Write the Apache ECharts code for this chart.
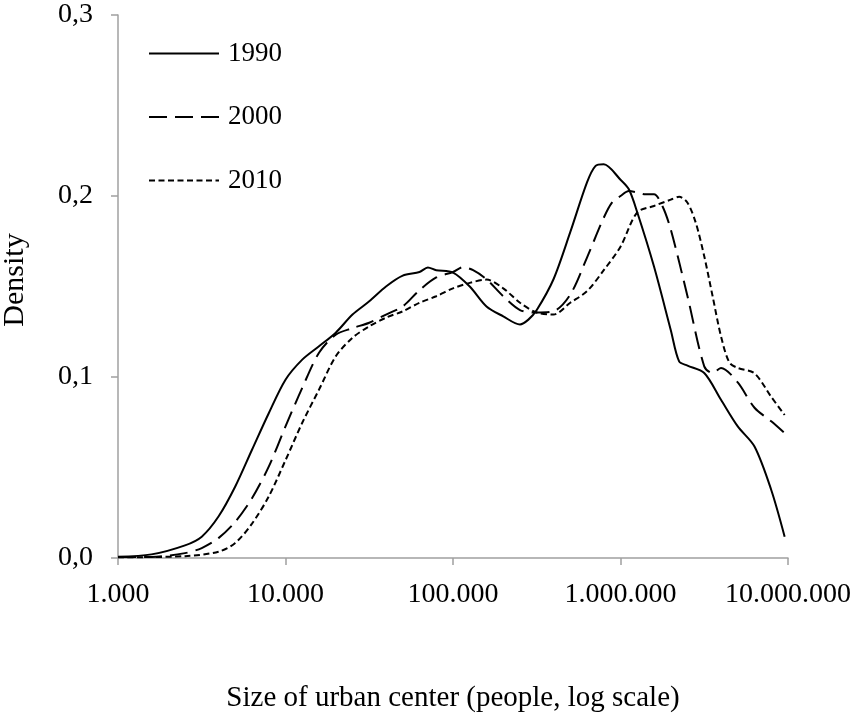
<!DOCTYPE html>
<html>
<head>
<meta charset="utf-8">
<script src="https://cdn.jsdelivr.net/npm/echarts@6/dist/echarts.min.js"></script>
<style>
html,body{margin:0;padding:0;background:#fff;}
#chart{width:854px;height:719px;}
</style>
</head>
<body>
<div id="chart"></div>
<script>
// x values are log10(size of urban center)
var x1990 = [3.0,3.2,3.4,3.5,3.6,3.7,3.8,3.9,4.0,4.1,4.2,4.3,4.4,4.5,4.6,4.7,4.8,4.85,4.9,5.0,5.1,5.2,5.3,5.4,5.45,5.5,5.6,5.7,5.8,5.85,5.9,6.0,6.05,6.1,6.2,6.3,6.35,6.4,6.5,6.6,6.7,6.8,6.9,6.98];
var d1990 = [0.0007,0.002,0.007,0.0118,0.0229,0.0395,0.0598,0.080,0.0985,0.1096,0.117,0.1245,0.1345,0.1418,0.150,0.156,0.158,0.1605,0.159,0.1577,0.150,0.139,0.1335,0.129,0.1317,0.137,0.154,0.180,0.2075,0.2165,0.2175,0.209,0.2037,0.191,0.161,0.126,0.1086,0.1063,0.1022,0.0874,0.0727,0.0616,0.0376,0.0118];

var x2000 = [3.0,3.2,3.4,3.5,3.6,3.7,3.8,3.9,4.0,4.1,4.2,4.3,4.4,4.5,4.6,4.7,4.8,4.9,5.0,5.06,5.12,5.2,5.3,5.4,5.5,5.6,5.7,5.8,5.9,5.95,6.0,6.05,6.1,6.15,6.2,6.25,6.3,6.4,6.5,6.55,6.6,6.7,6.8,6.9,6.98];
var d2000 = [0.0005,0.0006,0.0027,0.0055,0.011,0.020,0.033,0.0505,0.0727,0.094,0.1134,0.1234,0.127,0.130,0.1345,0.139,0.148,0.155,0.158,0.1607,0.159,0.154,0.1446,0.137,0.1356,0.1363,0.1455,0.166,0.188,0.1965,0.200,0.2027,0.202,0.2009,0.2009,0.1945,0.1815,0.1446,0.1059,0.1022,0.105,0.097,0.083,0.0755,0.069];

var x2010 = [3.0,3.4,3.6,3.7,3.8,3.9,4.0,4.1,4.2,4.3,4.4,4.5,4.6,4.7,4.8,4.9,5.0,5.1,5.2,5.3,5.4,5.5,5.6,5.7,5.8,5.9,6.0,6.1,6.2,6.3,6.35,6.4,6.45,6.5,6.55,6.6,6.65,6.7,6.8,6.9,6.98];
var d2010 = [0.0004,0.001,0.0035,0.0083,0.019,0.034,0.054,0.0747,0.093,0.1114,0.1217,0.128,0.1328,0.1363,0.141,0.1446,0.149,0.152,0.1538,0.149,0.141,0.1356,0.1345,0.141,0.1474,0.159,0.172,0.191,0.1945,0.198,0.1996,0.1963,0.185,0.1667,0.1446,0.1225,0.108,0.105,0.102,0.089,0.079];

var xTickLabels = ['1.000','10.000','100.000','1.000.000','10.000.000'];
var seriesNames = ['1990','2000','2010'];

function pairs(xs, ys){ return xs.map(function(x,i){ return [x, ys[i]]; }); }

var FONT = 'Liberation Serif';
var axisGray = '#a0a0a0';

var chart = echarts.init(document.getElementById('chart'));
chart.setOption({
  animation: false,
  backgroundColor: '#fff',
  textStyle: {fontFamily: FONT, color: '#000'},
  grid: {left: 118, right: 66, top: 15, bottom: 161, containLabel: false, outerBoundsMode: 'none'},
  legend: {
    orient: 'vertical',
    left: 148,
    top: 40,
    padding: 0,
    itemWidth: 70,
    itemHeight: 14,
    itemGap: 36.5,
    data: seriesNames,
    itemStyle: {color: 'rgba(0,0,0,0)', borderWidth: 0, opacity: 0},
    textStyle: {fontFamily: FONT, fontSize: 27, color: '#000', padding: [0, 0, 0, 4]}
  },
  xAxis: {
    type: 'value',
    min: 3, max: 7, interval: 1,
    name: 'Size of urban center (people, log scale)',
    nameLocation: 'middle',
    nameGap: 126,
    nameTextStyle: {fontFamily: FONT, fontSize: 29, color: '#000'},
    axisLine: {show: true, lineStyle: {color: axisGray, width: 1.5}},
    axisTick: {show: true, inside: false, length: 7, lineStyle: {color: axisGray, width: 1.5}},
    axisLabel: {
      margin: 23,
      fontFamily: FONT, fontSize: 28, color: '#000',
      formatter: function(v){ var i = Math.round(v) - 3; return xTickLabels[i] || ''; }
    },
    splitLine: {show: false}
  },
  yAxis: {
    type: 'value',
    min: 0, max: 0.3, interval: 0.1,
    name: 'Density',
    nameLocation: 'middle',
    nameGap: 88,
    nameRotate: 90,
    nameTextStyle: {fontFamily: FONT, fontSize: 30, color: '#000', padding: [0, 0, 0, 13]},
    axisLine: {show: true, lineStyle: {color: axisGray, width: 1.5}},
    axisTick: {show: true, inside: false, length: 7, lineStyle: {color: axisGray, width: 1.5}},
    axisLabel: {
      margin: 25,
      fontFamily: FONT, fontSize: 28, color: '#000',
      formatter: function(v){ return v.toFixed(1).replace('.', ','); }
    },
    splitLine: {show: false}
  },
  series: [
    {name: seriesNames[0], type: 'line', data: pairs(x1990, d1990), smooth: 0.3, symbol: 'none', showSymbol: false,
     lineStyle: {color: '#000', width: 2, type: 'solid'}, itemStyle: {color: '#000'}},
    {name: seriesNames[1], type: 'line', data: pairs(x2000, d2000), smooth: 0.3, symbol: 'none', showSymbol: false,
     lineStyle: {color: '#000', width: 2, type: [18, 8]}, itemStyle: {color: '#000'}},
    {name: seriesNames[2], type: 'line', data: pairs(x2010, d2010), smooth: 0.3, symbol: 'none', showSymbol: false,
     lineStyle: {color: '#000', width: 2, type: [6, 3.5]}, itemStyle: {color: '#000'}}
  ]
});
</script>
</body>
</html>
